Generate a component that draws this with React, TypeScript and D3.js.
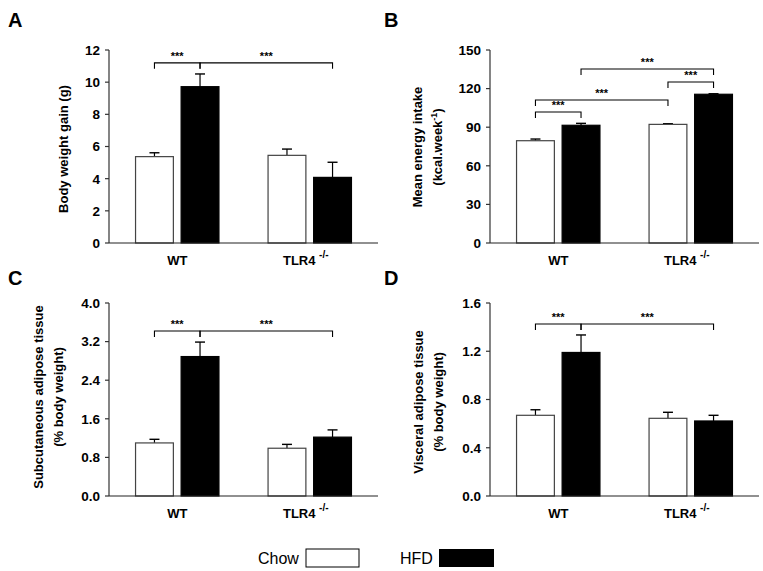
import * as d3 from 'd3';

const groups = ['WT', 'TLR4'];
const series = ['Chow', 'HFD'];

// mean and upper error (mean + SEM), per group, order: Chow, HFD
const weightGain = { WT: [5.37, 9.72], TLR4: [5.45, 4.08] };
const weightGainErr = { WT: [5.61, 10.51], TLR4: [5.84, 5.02] };
const energy = { WT: [79.5, 91.5], TLR4: [92.2, 115.6] };
const energyErr = { WT: [80.8, 93.0], TLR4: [92.7, 116.0] };
const subcut = { WT: [1.1, 2.89], TLR4: [0.99, 1.22] };
const subcutErr = { WT: [1.175, 3.19], TLR4: [1.07, 1.37] };
const visceral = { WT: [0.669, 1.19], TLR4: [0.644, 0.622] };
const visceralErr = { WT: [0.715, 1.335], TLR4: [0.694, 0.669] };

const ticksA = [0, 2, 4, 6, 8, 10, 12];
const ticksB = [0, 30, 60, 90, 120, 150];
const ticksC = [0, 0.8, 1.6, 2.4, 3.2, 4.0];
const ticksD = [0, 0.4, 0.8, 1.2, 1.6];

// significance brackets: [group, series] -> [group, series] at height y
type Bracket = { a: [string, string]; b: [string, string]; y: number };
const bracketsA: Bracket[] = [
  { a: ['WT', 'Chow'], b: ['WT', 'HFD'], y: 11.2 },
  { a: ['WT', 'HFD'], b: ['TLR4', 'HFD'], y: 11.2 },
];
const bracketsB: Bracket[] = [
  { a: ['WT', 'Chow'], b: ['WT', 'HFD'], y: 101.8 },
  { a: ['WT', 'Chow'], b: ['TLR4', 'Chow'], y: 111.1 },
  { a: ['TLR4', 'Chow'], b: ['TLR4', 'HFD'], y: 125.1 },
  { a: ['WT', 'HFD'], b: ['TLR4', 'HFD'], y: 135.2 },
];
const bracketsC: Bracket[] = [
  { a: ['WT', 'Chow'], b: ['WT', 'HFD'], y: 3.42 },
  { a: ['WT', 'HFD'], b: ['TLR4', 'HFD'], y: 3.42 },
];
const bracketsD: Bracket[] = [
  { a: ['WT', 'Chow'], b: ['WT', 'HFD'], y: 1.426 },
  { a: ['WT', 'HFD'], b: ['TLR4', 'HFD'], y: 1.426 },
];

const font = '"Liberation Sans", Arial, sans-serif';

type PanelProps = {
  letter: string;
  left: number;
  top: number;
  axisX: number;
  axisEnd: number;
  y0: number;
  y1: number;
  ticks: number[];
  fmt: (v: number) => string;
  values: Record<string, number[]>;
  errs: Record<string, number[]>;
  brackets: Bracket[];
  title: React.ReactNode;
};

const Panel = (p: PanelProps) => {
  const x0 = d3.scaleBand().domain(groups).range([p.axisX, p.axisEnd]).paddingInner(0.35).paddingOuter(0.19);
  const x1 = d3.scaleBand().domain(series).range([0, x0.bandwidth()]).paddingInner(0.17).paddingOuter(0.03);
  const y = d3.scaleLinear().domain([0, ticks_max(p.ticks)]).range([p.y0, p.y1]);
  const cx = (g: string, s: string) => (x0(g) as number) + (x1(s) as number) + x1.bandwidth() / 2;

  return (
    <g fontFamily={font}>
      <text x={p.left} y={p.top} fontSize={20} fontWeight="bold">{p.letter}</text>
      {p.title}
      {/* bars */}
      {groups.map(g =>
        series.map((s, i) => (
          <g key={g + s}>
            <line x1={cx(g, s)} x2={cx(g, s)} y1={y(p.values[g][i])} y2={y(p.errs[g][i])} stroke="#000" strokeWidth={1.2} />
            <line x1={cx(g, s) - 5} x2={cx(g, s) + 5} y1={y(p.errs[g][i])} y2={y(p.errs[g][i])} stroke="#000" strokeWidth={1.4} />
            <rect
              x={(x0(g) as number) + (x1(s) as number)}
              y={y(p.values[g][i])}
              width={x1.bandwidth()}
              height={y(0) - y(p.values[g][i])}
              fill={i === 0 ? '#fff' : '#000'}
              stroke={i === 0 ? '#444' : '#000'}
              strokeWidth={1.2}
            />
          </g>
        ))
      )}
      {/* axes */}
      <line x1={p.axisX} x2={p.axisX} y1={y(0)} y2={y(ticks_max(p.ticks))} stroke="#333" strokeWidth={1.2} />
      <line x1={p.axisX} x2={p.axisEnd} y1={y(0)} y2={y(0)} stroke="#222" strokeWidth={1.2} />
      {p.ticks.map(t => (
        <g key={t}>
          <line x1={p.axisX - 4} x2={p.axisX} y1={y(t)} y2={y(t)} stroke="#333" strokeWidth={1.2} />
          <text x={p.axisX - 9} y={y(t)} dy="0.36em" textAnchor="end" fontSize={13.5} fontWeight="bold">{p.fmt(t)}</text>
        </g>
      ))}
      {groups.map(g => (
        <text key={g} x={(x0(g) as number) + x0.bandwidth() / 2 + (g === 'TLR4' ? -4 : 0)} y={y(0) + 22} textAnchor="middle" fontSize={13} fontWeight="bold">
          {g === 'WT' ? 'WT' : (
            <>TLR4 <tspan fontSize={10} dy={-7}>-/-</tspan></>
          )}
        </text>
      ))}
      {/* brackets */}
      {p.brackets.map((b, i) => {
        const xa = cx(b.a[0], b.a[1]);
        const xb = cx(b.b[0], b.b[1]);
        const yy = y(b.y);
        return (
          <g key={i}>
            <path d={`M${xa},${yy + 6}V${yy}H${xb}V${yy + 6}`} fill="none" stroke="#000" strokeWidth={1.1} />
            <text x={(xa + xb) / 2} y={yy - 3} textAnchor="middle" fontSize={11} fontWeight="bold">***</text>
          </g>
        );
      })}
    </g>
  );
};

function ticks_max(t: number[]) {
  return t[t.length - 1];
}

const App = () => {
  const titleStyle = { fontSize: 13, fontWeight: 'bold' as const };
  return (
    <svg width={763} height={571} style={{ position: 'absolute', left: 0, top: 0, background: '#fff' }}>
      <Panel
        letter="A" left={8} top={27} axisX={109} axisEnd={378} y0={243} y1={50}
        ticks={ticksA} fmt={d3.format('d')} values={weightGain} errs={weightGainErr} brackets={bracketsA}
        title={<text transform="translate(68,149) rotate(-90)" textAnchor="middle" {...titleStyle}>Body weight gain (g)</text>}
      />
      <Panel
        letter="B" left={384} top={27} axisX={490} axisEnd={759} y0={243} y1={50}
        ticks={ticksB} fmt={d3.format('d')} values={energy} errs={energyErr} brackets={bracketsB}
        title={
          <>
            <text transform="translate(422,147) rotate(-90)" textAnchor="middle" {...titleStyle}>Mean energy intake</text>
            <text transform="translate(442,147) rotate(-90)" textAnchor="middle" {...titleStyle}>
              (kcal.week<tspan fontSize={9} dy={-5}>-1</tspan><tspan dy={5}>)</tspan>
            </text>
          </>
        }
      />
      <Panel
        letter="C" left={8} top={285} axisX={109} axisEnd={378} y0={496} y1={303}
        ticks={ticksC} fmt={d3.format('.1f')} values={subcut} errs={subcutErr} brackets={bracketsC}
        title={
          <>
            <text transform="translate(43,397) rotate(-90)" textAnchor="middle" {...titleStyle}>Subcutaneous adipose tissue</text>
            <text transform="translate(63,397) rotate(-90)" textAnchor="middle" {...titleStyle}>(% body weight)</text>
          </>
        }
      />
      <Panel
        letter="D" left={384} top={285} axisX={490} axisEnd={759} y0={496} y1={303}
        ticks={ticksD} fmt={d3.format('.1f')} values={visceral} errs={visceralErr} brackets={bracketsD}
        title={
          <>
            <text transform="translate(423,402) rotate(-90)" textAnchor="middle" {...titleStyle}>Visceral adipose tissue</text>
            <text transform="translate(443,402) rotate(-90)" textAnchor="middle" {...titleStyle}>(% body weight)</text>
          </>
        }
      />
      {/* legend */}
      <g fontFamily={font} fontSize={16}>
        <text x={258} y={564}>Chow</text>
        <rect x={306} y={549} width={53} height={18} fill="#fff" stroke="#000" strokeWidth={1} />
        <text x={400} y={564}>HFD</text>
        <rect x={439} y={549} width={55} height={18} fill="#000" />
      </g>
    </svg>
  );
};

export default App;
